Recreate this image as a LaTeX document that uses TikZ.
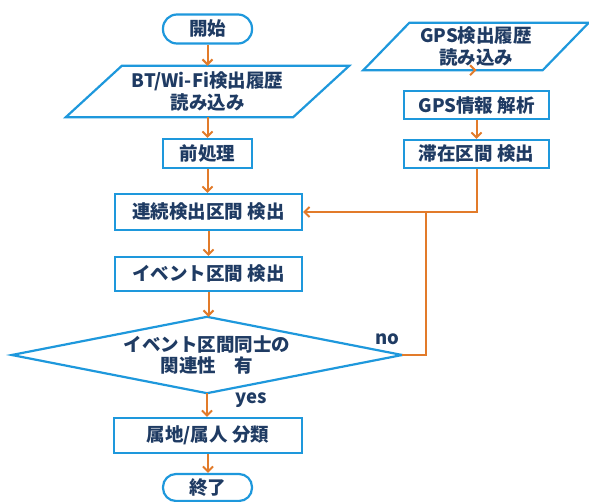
\documentclass[tikz,border=0pt]{standalone}
\usepackage{fontspec}
\newfontfamily\jp{Noto Sans CJK JP}
\usetikzlibrary{arrows.meta,calc}
\definecolor{boxblue}{HTML}{1E98DC}
\definecolor{arrorange}{HTML}{E27B2A}
\definecolor{txtnavy}{HTML}{1F3B63}
\tikzset{
  base/.style={font=\jp\bfseries\fontsize{18.5}{21.5}\selectfont, text=txtnavy, align=center, inner sep=0pt},
  procbox/.style={base, draw=boxblue, line width=2.2pt, minimum height=30pt},
  termbox/.style={procbox, rounded corners=14pt, minimum width=89pt, minimum height=29pt},
  iobox/.style={base},
  ioline/.style={draw=boxblue, line width=2.2pt, line join=miter},
  flow/.style={draw=arrorange, line width=2pt, -{Straight Barb[length=5pt,width=10pt,line width=2pt]}},
  flowplain/.style={draw=arrorange, line width=2pt},
  lbl/.style={font=\jp\bfseries\fontsize{18.5}{21.5}\selectfont, text=txtnavy, inner sep=0pt}
}
\begin{document}
\begin{tikzpicture}[x=1pt,y=-1pt]
\fill[white] (0,0) rectangle (589,502);
\useasboundingbox (0,0) rectangle (589,502);

% left column
\node[termbox] (start) at (207.5,29) {開始};
\node[iobox, minimum width=227pt, minimum height=51pt] (bt) at (207.5,91.5) {BT/Wi-Fi検出履歴\\読み込み};
\draw[ioline] ([xshift=28pt]bt.north west) -- ([xshift=28pt]bt.north east) -- ([xshift=-28pt]bt.south east) -- ([xshift=-28pt]bt.south west) -- cycle;
\node[procbox, minimum width=89pt, minimum height=29pt] (pre) at (207.5,153.5) {前処理};
\node[procbox, minimum width=187pt, minimum height=36pt] (cont) at (208.5,212) {連続検出区間 検出};
\node[procbox, minimum width=187pt, minimum height=34pt] (ev) at (208.5,274) {イベント区間 検出};
\node[iobox, minimum width=390pt, minimum height=76pt] (dia) at (207,355) {イベント区間同士の\\関連性　有};
\draw[ioline] (dia.west) -- (dia.north) -- (dia.east) -- (dia.south) -- cycle;
\node[procbox, minimum width=188pt, minimum height=35pt] (cls) at (208,435.5) {属地/属人 分類};
\node[termbox, minimum height=27pt, rounded corners=13pt] (end) at (207.5,487.5) {終了};

% right column
\node[iobox, minimum width=179pt, minimum height=47pt] (gps) at (476,46.5) {GPS検出履歴\\読み込み};
\draw[ioline] ([xshift=23pt]gps.north west) -- ([xshift=23pt]gps.north east) -- ([xshift=-23pt]gps.south east) -- ([xshift=-23pt]gps.south west) -- cycle;
\node[procbox, minimum width=145pt, minimum height=28pt] (gpsa) at (476.5,105) {GPS情報 解析};
\node[procbox, minimum width=145pt, minimum height=28pt] (stay) at (476.5,154) {滞在区間 検出};

% connectors
\draw[flow] (start.south) -- (start.south |- bt.north);
\draw[flow] (bt.south) -- (pre.north);
\draw[flow] (pre.south) -- (pre.south |- cont.north);
\draw[flow] (cont.south) -- (ev.north);
\draw[flow] (ev.south) -- (ev.south |- dia.north);
\draw[flow] (dia.south) -- (dia.south |- cls.north);
\draw[flow] (cls.south) -- (cls.south |- end.north);
\draw[flow] (gps.south) -- (gps.south -| gpsa.north);
\draw[flow] (gpsa.south) -- (stay.north);
\draw[flow] (stay.south) |- (cont.east);
\coordinate (join) at (426,212);
\draw[flowplain] (dia.east) -| (join);

% labels
\node[lbl] (no) at (387,339) {no};
\node[lbl] (yes) at (251,400) {yes};
\end{tikzpicture}
\end{document}
